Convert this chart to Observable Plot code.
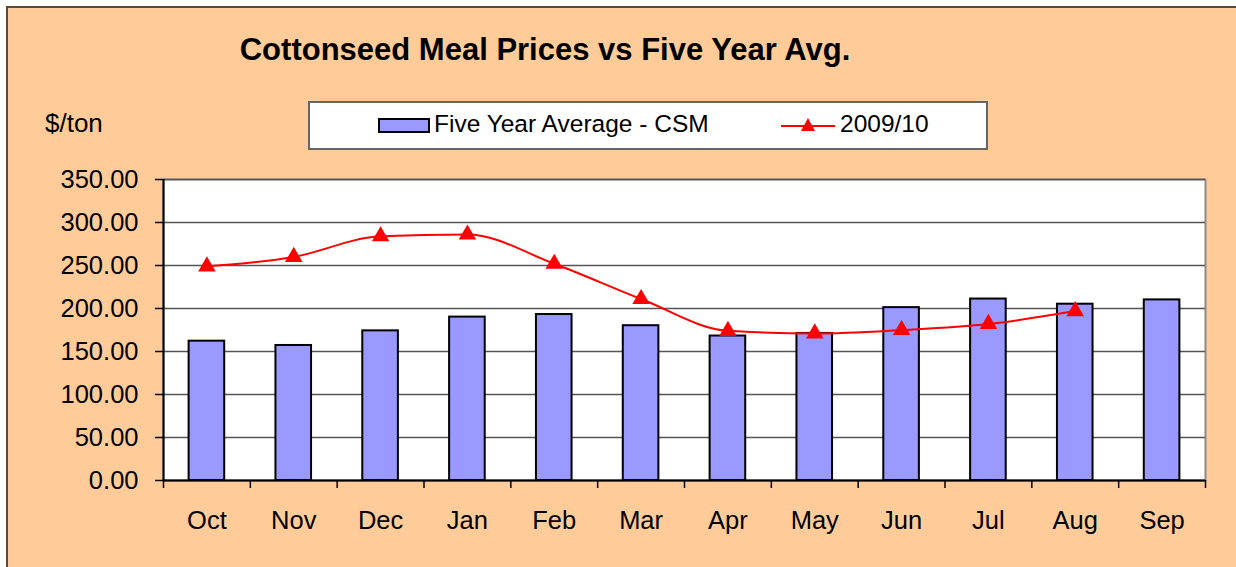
<!DOCTYPE html>
<html><head><meta charset="utf-8">
<script src="https://cdn.jsdelivr.net/npm/d3@7"></script>
<script src="https://cdn.jsdelivr.net/npm/@observablehq/plot@0.6"></script>
<style>
body{margin:0;background:#fff;}
#wrap{position:relative;width:1236px;height:567px;overflow:hidden;font-family:"Liberation Sans",Arial,sans-serif;color:#000;}
#bg{position:absolute;left:6px;top:6px;right:0;bottom:0;background:#FFCC99;border-top:2px solid #5b4a3c;border-left:2px solid #5b4a3c;}
#chart{position:absolute;left:0;top:0;}
#title{position:absolute;left:0;width:1090px;text-align:center;top:34px;font-weight:bold;font-size:31px;line-height:32px;white-space:nowrap;}
#ylab{position:absolute;left:45px;top:109px;font-size:26px;line-height:28px;}
#legend{position:absolute;left:308px;top:101px;width:676px;height:45px;background:#fff;border:2px solid #666;}
.sw{position:absolute;left:68px;top:15px;width:48px;height:11px;background:#9999FF;border:2px solid #000;}
.lt{position:absolute;top:7px;font-size:24.5px;line-height:28px;white-space:nowrap;}
#lineSw{position:absolute;left:470px;top:12px;}
</style>
</head><body>
<div id="wrap">
  <div id="bg"></div>
  <div id="chart"></div>
  <div id="title"></div>
  <div id="ylab"></div>
  <div id="legend"></div>
</div>
<script>
const titleText = "Cottonseed Meal Prices vs Five Year Avg.";
const unitLabel = "$/ton";
const months = ["Oct","Nov","Dec","Jan","Feb","Mar","Apr","May","Jun","Jul","Aug","Sep"];
const fiveYearAvg = [162,157,174,190,193,180,168,171,201,211,205,210];
const season2009 = [249,260,284,286,252,211,174,171,175,182,197];
const yTicks = [0,50,100,150,200,250,300,350];
const seriesNames = ["Five Year Average - CSM","2009/10"];

const W = 1236, H = 567, mL = 163, mR = 31, mT = 179, mB = 87;
const step = (W - mL - mR) / months.length;

const bars = months.map((m, i) => ({month: m, value: fiveYearAvg[i]}));
const pts = season2009.map((v, i) => ({month: months[i], value: v}));

const chart = Plot.plot({
  width: W, height: H,
  marginLeft: mL, marginRight: mR, marginTop: mT, marginBottom: mB,
  style: {background: "transparent", fontFamily: "Liberation Sans, Arial, sans-serif", color: "#000", overflow: "visible"},
  x: {domain: months, paddingInner: 0.59, paddingOuter: 0.295, round: false},
  y: {domain: [0, 350]},
  marks: [
    Plot.frame({fill: "white", stroke: "#8a8a8a", strokeWidth: 2}),
    Plot.gridY(yTicks, {stroke: "#555", strokeOpacity: 1, strokeWidth: 1.5}),
    Plot.barY(bars, {x: "month", y: "value", fill: "#9999FF", stroke: "#000", strokeWidth: 2}),
    Plot.line(pts, {x: "month", y: "value", stroke: "#FF0000", strokeWidth: 2, curve: "monotone-x"}),
    Plot.dot(pts, {x: "month", y: "value", symbol: "triangle", fill: "#FF0000", r: 6.5}),
    Plot.ruleY([0], {stroke: "#000", strokeWidth: 2}),
    Plot.ruleX([months[0]], {dx: -step / 2, stroke: "#000", strokeWidth: 2}),
    Plot.axisY(yTicks, {tickSize: 8, tickPadding: 17, tickFormat: d => d.toFixed(2), fontSize: 25.5, stroke: "#000", strokeWidth: 1.5, label: null}),
    Plot.axisX(months, {tickSize: 8, dx: -step / 2, tickFormat: () => "", stroke: "#000", strokeWidth: 1.5, label: null}),
    Plot.axisX([months[months.length - 1]], {tickSize: 8, dx: step / 2, tickFormat: () => "", stroke: "#000", strokeWidth: 1.5, label: null}),
    Plot.axisX(months, {tickSize: 0, tickPadding: 30, fontSize: 25.5, label: null})
  ]
});
document.getElementById("chart").appendChild(chart);

document.getElementById("title").textContent = titleText;
document.getElementById("ylab").textContent = unitLabel;

const lg = document.getElementById("legend");
const sw = document.createElement("div"); sw.className = "sw"; lg.appendChild(sw);
const t1 = document.createElement("div"); t1.className = "lt"; t1.style.left = "124px"; t1.textContent = seriesNames[0]; lg.appendChild(t1);
const ls = document.createElementNS("http://www.w3.org/2000/svg", "svg");
ls.setAttribute("id", "lineSw"); ls.setAttribute("width", "56"); ls.setAttribute("height", "20");
ls.innerHTML = '<line x1="1" y1="11" x2="55" y2="11" stroke="#FF0000" stroke-width="2"/><path d="M28,3 L35,16 L21,16 Z" fill="#FF0000"/>';
lg.appendChild(ls);
const t2 = document.createElement("div"); t2.className = "lt"; t2.style.left = "530px"; t2.textContent = seriesNames[1]; lg.appendChild(t2);
</script>
</body></html>
